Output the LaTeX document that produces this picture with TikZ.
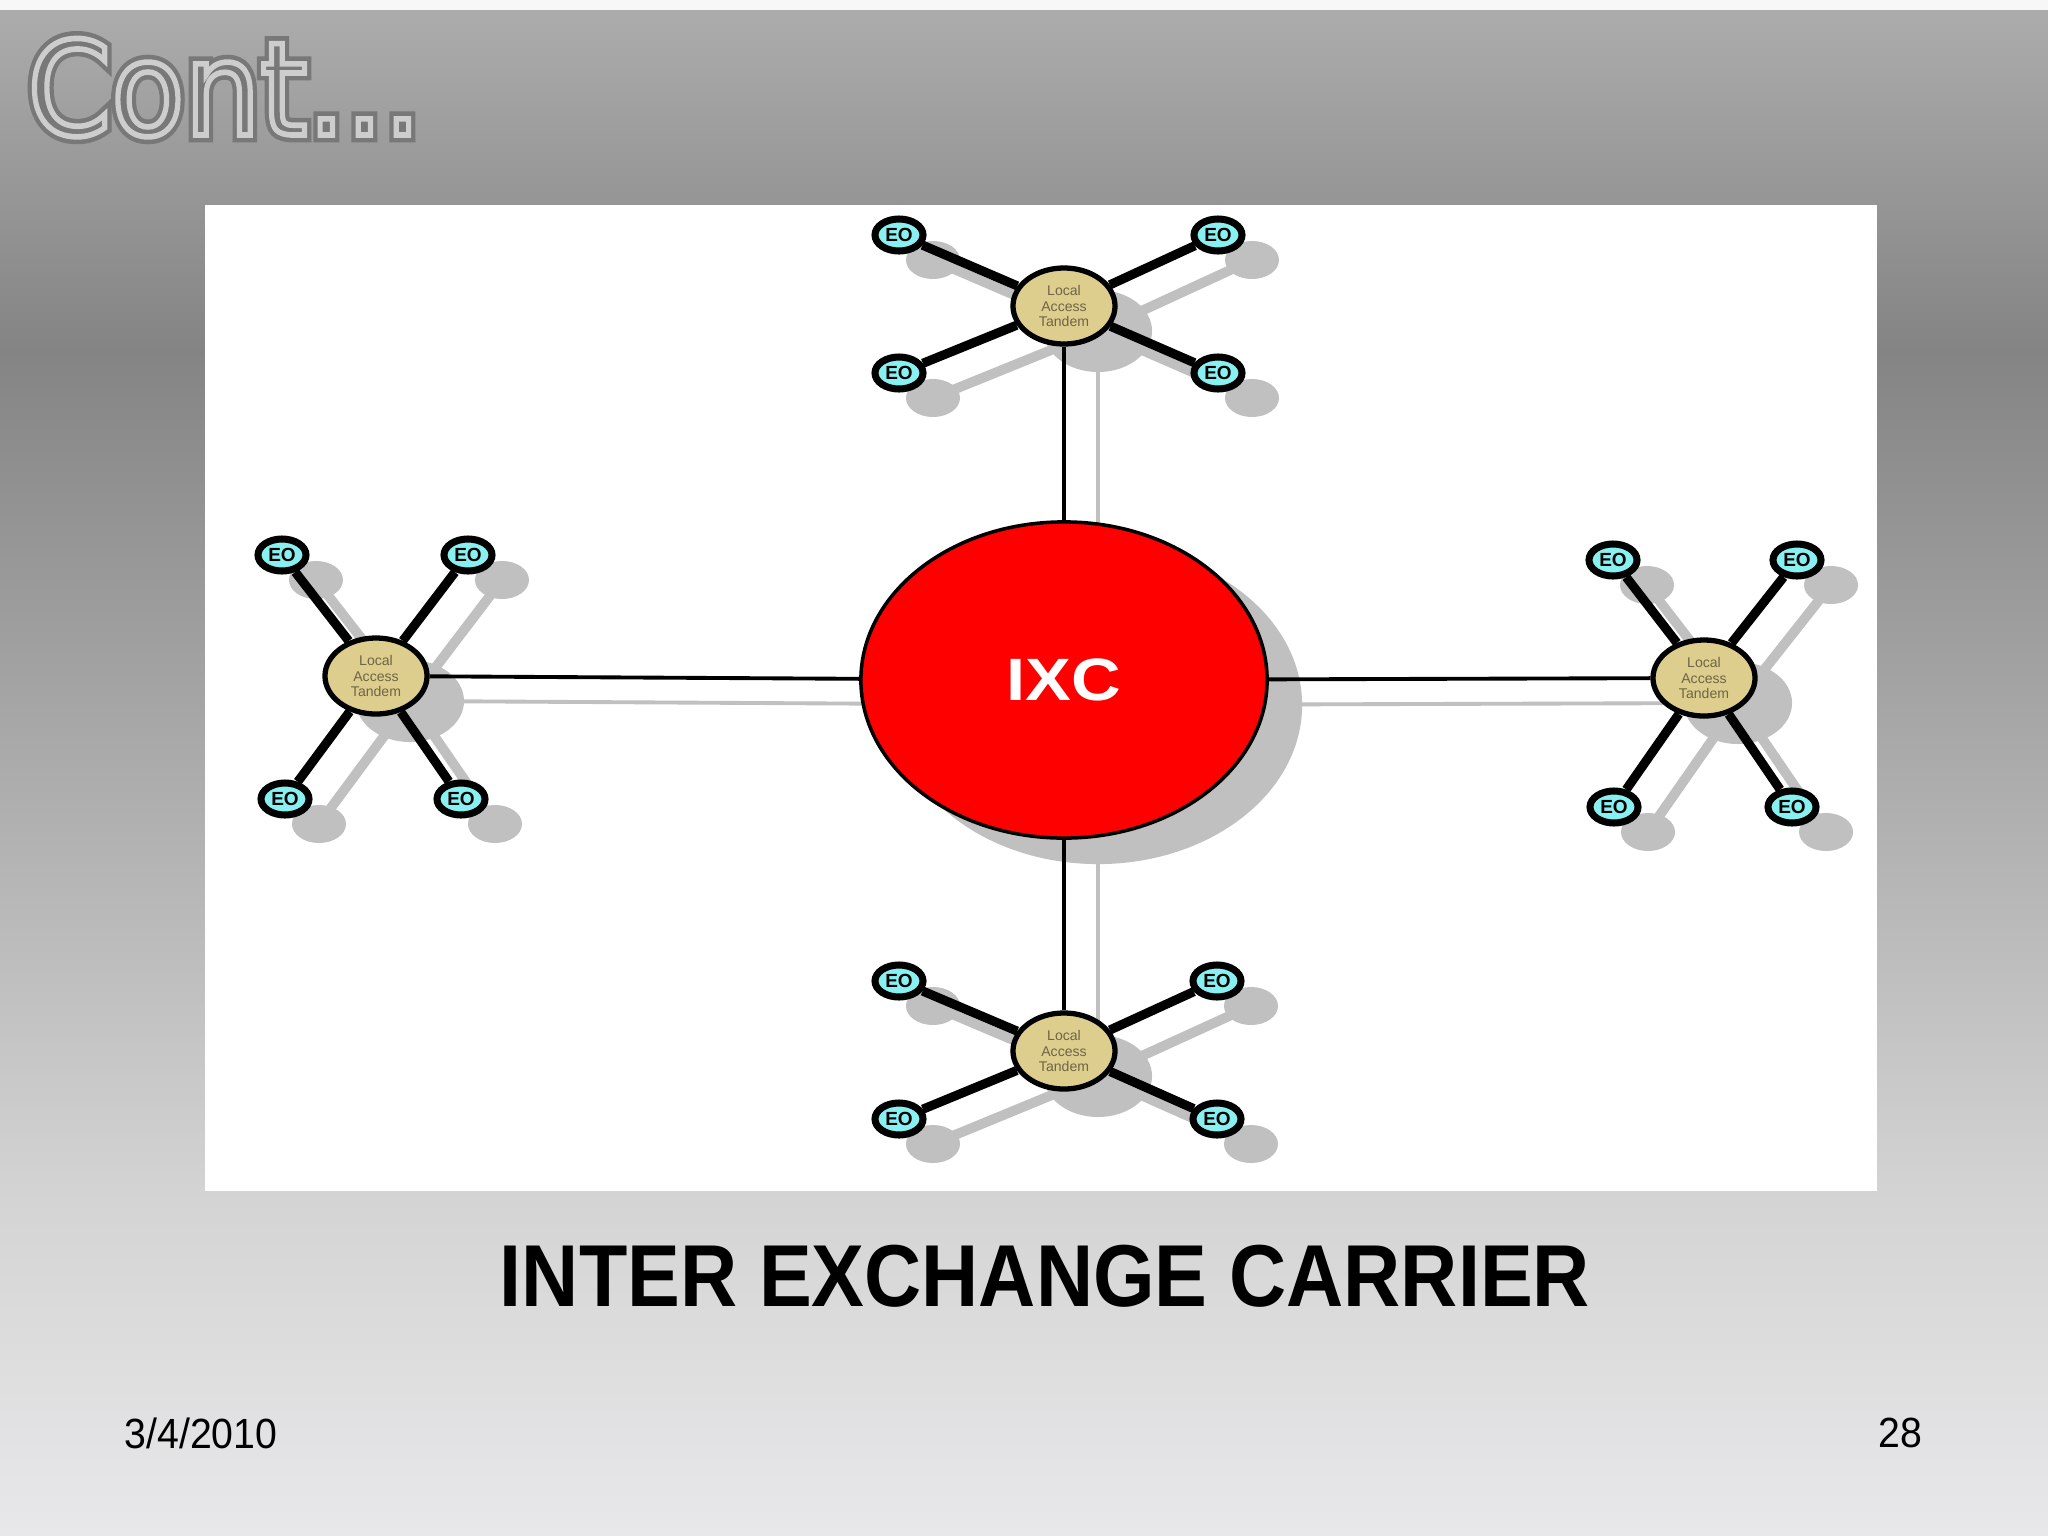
\documentclass[tikz,border=0pt]{standalone}
\usepackage{fontspec}
\setmainfont{Liberation Sans}
\newfontfamily\slidefont{DejaVu Sans}
\usetikzlibrary{shapes.geometric,backgrounds,calc}

\definecolor{ixcred}{RGB}{255,0,0}
\definecolor{tanfill}{RGB}{222,206,142}
\definecolor{tantext}{RGB}{110,100,70}
\definecolor{eofill}{RGB}{136,240,240}
\definecolor{shadowgray}{RGB}{192,192,192}
\definecolor{bgA}{RGB}{172,172,172}
\definecolor{bgB}{RGB}{132,132,132}
\definecolor{bgC}{RGB}{212,212,212}
\definecolor{bgD}{RGB}{232,232,234}
\definecolor{titledark}{RGB}{120,120,120}
\definecolor{titlelight}{RGB}{205,205,205}

\tikzset{
  ixc/.style={ellipse, draw, line width=1pt, fill=ixcred, inner sep=0pt,
    minimum width=4.06cm, minimum height=3.16cm, text=white,
    font=\bfseries\fontsize{17}{17}\selectfont},
  tandem/.style={ellipse, draw, line width=1.5pt, fill=tanfill, inner sep=0pt,
    minimum width=1.02cm, minimum height=0.76cm, align=center, text=tantext,
    font=\fontsize{4}{4.3}\selectfont},
  eo/.style={ellipse, draw, line width=2pt, fill=eofill, inner sep=0pt,
    minimum width=0.48cm, minimum height=0.32cm,
    font=\bfseries\fontsize{5.4}{5.4}\selectfont},
  link/.style={line width=2.6pt},
  trunk/.style={line width=1.1pt},
  shadowlink/.style={shadowgray, line width=2.8pt},
  trunkshadow/.style={shadowgray, line width=1.1pt},
}

\begin{document}
\begin{tikzpicture}[x=0.01cm, y=-0.01cm]
  \useasboundingbox (0,0) rectangle (2048,1536);

  % the network
  \node[ixc] (ixc) at (1064,680) {\scalebox{1.15}[1]{IXC}};
  \node[tandem] (tanN) at (1064,306)  {Local\\Access\\Tandem};
  \node[tandem] (tanS) at (1064,1051) {Local\\Access\\Tandem};
  \node[tandem] (tanW) at (376,676)   {Local\\Access\\Tandem};
  \node[tandem] (tanE) at (1704,678)  {Local\\Access\\Tandem};
  \foreach \n/\x/\y in {N1/899/235, N2/1218/235, N3/899/373, N4/1218/373,
                        S1/899/981, S2/1217/981, S3/899/1119, S4/1217/1119,
                        W1/282/555, W2/468/555, W3/285/799, W4/461/799,
                        E1/1613/560, E2/1797/560, E3/1614/807, E4/1792/807}
    \node[eo] (eo\n) at (\x,\y) {EO};

  \foreach \t in {N,S,W,E} {
    \draw[trunk] (tan\t) -- (ixc);
    \foreach \i in {1,...,4}
      \draw[link] (tan\t) -- (eo\t\i);
  }

  % slide background, panel and shadows
  \begin{scope}[on background layer]
    \fill[white!94!gray] (0,0) rectangle (2048,10);
    \shade[top color=bgA, bottom color=bgB] (0,10) rectangle (2048,350);
    \shade[top color=bgB, bottom color=bgC] (0,350) rectangle (2048,1200);
    \shade[top color=bgC, bottom color=bgD] (0,1200) rectangle (2048,1536);
    \fill[white] (205,205) rectangle (1877,1191);

    \foreach \t in {N,S,W,E} {
      \draw[trunkshadow] ($(tan\t)+(34,25)$) -- ($(ixc)+(34,25)$);
      \foreach \i in {1,...,4}
        \draw[shadowlink] ($(tan\t)+(34,25)$) -- ($(eo\t\i)+(34,25)$);
    }
    \fill[shadowgray] ($(ixc)+(34,25)$) ellipse (2.04cm and 1.59cm);
    \foreach \t in {N,S,W,E} {
      \fill[shadowgray] ($(tan\t)+(34,25)$) ellipse (0.54cm and 0.41cm);
      \foreach \i in {1,...,4}
        \fill[shadowgray] ($(eo\t\i)+(34,25)$) ellipse (0.27cm and 0.19cm);
    }
  \end{scope}

  % slide texts
  \node[anchor=base west, inner sep=0pt] (slidetitle) at (27,135)
    {\slidefont\fontsize{37}{37}\selectfont\color{titledark}\scalebox{0.92}[1]{%
     \special{pdf:literal direct q 1 Tr 4.2 w}Cont...\special{pdf:literal direct Q}}};
  \node[anchor=base west, inner sep=0pt] (slidetitletop) at (27,135)
    {\slidefont\fontsize{37}{37}\selectfont\color{titlelight}\scalebox{0.92}[1]{%
     \special{pdf:literal direct q 1 Tr 1.6 w}Cont...\special{pdf:literal direct Q}}};
  \node[anchor=base, inner sep=0pt] (caption) at (1045,1306)
    {\bfseries\fontsize{25}{25}\selectfont\scalebox{0.9}[1]{INTER EXCHANGE CARRIER}};
  \node[anchor=base west, inner sep=0pt] (date) at (124,1448)
    {\fontsize{12}{12}\selectfont\scalebox{0.93}[1]{3/4/2010}};
  \node[anchor=base east, inner sep=0pt] (pagenum) at (1923,1447)
    {\fontsize{12}{12}\selectfont\scalebox{0.93}[1]{28}};
\end{tikzpicture}
\end{document}
